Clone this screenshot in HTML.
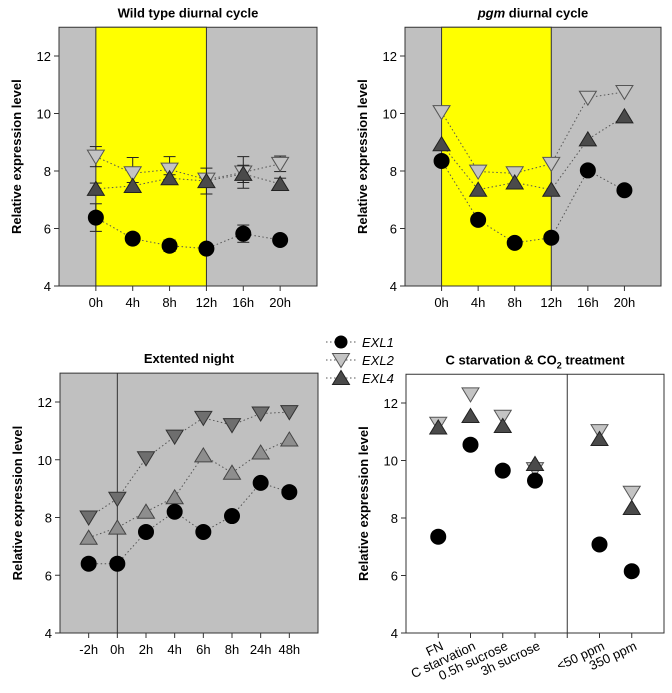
<!DOCTYPE html>
<html><head><meta charset="utf-8"><style>
body{margin:0;background:#fff;}
svg text{font-family:"Liberation Sans",Arial,sans-serif;}
</style></head><body>
<svg id="fig" width="672" height="688" viewBox="0 0 672 688" xmlns="http://www.w3.org/2000/svg"></svg>
<script>
const wtCats=["0h","4h","8h","12h","16h","20h"];
const wtExl1=[6.38,5.65,5.4,5.3,5.82,5.6];
const wtExl1Err=[0.48,0.1,0.2,0.1,0.3,0.17];
const wtExl2=[8.5,7.92,8.05,7.7,7.95,8.25];
const wtExl2Err=[0.35,0.55,0.45,0.1,0.55,0.27];
const wtExl4=[7.38,7.48,7.75,7.65,7.9,7.55];
const wtExl4Err=[0.2,0.12,0.12,0.45,0.3,0.2];
const pgmCats=["0h","4h","8h","12h","16h","20h"];
const pgmExl1=[8.35,6.3,5.5,5.68,8.02,7.33];
const pgmExl2=[10.05,7.98,7.92,8.25,10.55,10.75];
const pgmExl4=[8.93,7.35,7.6,7.35,9.1,9.9];
const enCats=["-2h","0h","2h","4h","6h","8h","24h","48h"];
const enExl1=[6.4,6.4,7.5,8.2,7.5,8.05,9.2,8.88];
const enExl2=[8.0,8.65,10.05,10.8,11.45,11.2,11.6,11.65];
const enExl4=[7.3,7.65,8.2,8.7,10.15,9.55,10.25,10.7];
const csCats=["FN","C starvation","0.5h sucrose","3h sucrose",null,"<50 ppm","350 ppm"];
const csExl1=[7.35,10.55,9.65,9.3,null,7.08,6.15];
const csExl2=[11.28,12.3,11.52,9.7,null,11.02,8.88];
const csExl4=[11.15,11.55,11.2,9.88,null,10.75,8.35];
const yTicks=[4,6,8,10,12];

const NS="http://www.w3.org/2000/svg";
const svg=document.getElementById('fig');
function mk(tag,attrs,parent,txt){const e=document.createElementNS(NS,tag);for(const k in attrs)e.setAttribute(k,attrs[k]);if(txt!==undefined)e.textContent=txt;(parent||svg).appendChild(e);return e;}

function marker(g,type,cx,cy,fill,stroke){
  let e;
  if(type==='circle'){e=mk('circle',{cx:cx,cy:cy,r:7.5,fill:fill,stroke:'#000'},g);}
  else if(type==='down'){e=mk('polygon',{points:`${cx-8.5},${cy-6.5} ${cx+8.5},${cy-6.5} ${cx},${cy+7.5}`,fill:fill,stroke:stroke,'stroke-width':1},g);}
  else{e=mk('polygon',{points:`${cx-8.5},${cy+6.5} ${cx+8.5},${cy+6.5} ${cx},${cy-7.5}`,fill:fill,stroke:stroke,'stroke-width':1},g);}
  return e;
}

function panel(o){
  const g=mk('g',{});
  
  
  const x=i=>o.x0+(i+1)*(o.x1-o.x0)/(o.nslots+1);
  const y=v=>o.yb-(v-4)*(o.yb-o.y12)/8;
  const top=y(13);
  const bg=mk('rect',{x:o.x0,y:top,width:o.x1-o.x0,height:o.yb-top,fill:o.bg,stroke:'#333','stroke-width':1},g);
  
  if(o.yellow){const yr=mk('rect',{x:x(o.yellow[0]),y:top,width:x(o.yellow[1])-x(o.yellow[0]),height:o.yb-top,fill:'#ffff00',stroke:'#333','stroke-width':1},g);
    }
  if(o.vline!==undefined){const vl=mk('line',{x1:x(o.vline),x2:x(o.vline),y1:top,y2:o.yb,stroke:'#333'},g);
    }
  yTicks.forEach(t=>{mk('line',{x1:o.x0-5,x2:o.x0,y1:y(t),y2:y(t),stroke:'#333'},g);
    const tl=mk('text',{x:o.x0-8,y:y(t)+5,'text-anchor':'end','font-size':13},g,t);
    });
  const yt=mk('text',{x:0,y:0,transform:`translate(${o.x0-38},${(top+o.yb)/2}) rotate(-90)`,'text-anchor':'middle','font-size':13,'font-weight':'bold'},g,'Relative expression level');
  
  o.cats.forEach((c,i)=>{if(c===null)return;
    mk('line',{x1:x(i),x2:x(i),y1:o.yb,y2:o.yb+5,stroke:'#333'},g);
    let tl;
    if(o.rot){tl=mk('text',{x:0,y:0,transform:`translate(${x(i)+6},${o.yb+16}) rotate(-25)`,'text-anchor':'end','font-size':13},g,c);}
    else tl=mk('text',{x:x(i),y:o.yb+21,'text-anchor':'middle','font-size':13},g,c);
    });
  if(o.vline!==undefined && o.rot) mk('line',{x1:x(o.vline),x2:x(o.vline),y1:o.yb,y2:o.yb+5,stroke:'#333'},g);
  const tt=mk('text',{x:(o.x0+o.x1)/2,y:top-10,'text-anchor':'middle','font-size':13,'font-weight':'bold'},g);
  
  o.title(tt);
  o.series.forEach(s=>{
    const sg=mk('g',{},g);
    
    if(o.lines){let d='';s.vals.forEach((v,i)=>{if(v===null)return;d+=(d?'L':'M')+x(i)+','+y(v);});
      mk('path',{d:d,fill:'none',stroke:'#555','stroke-width':1,'stroke-dasharray':'1.5,2.5'},sg);}
    if(s.err){s.vals.forEach((v,i)=>{const e=s.err[i];
      mk('line',{x1:x(i),x2:x(i),y1:y(v-e),y2:y(v+e),stroke:'#222'},sg);
      mk('line',{x1:x(i)-6,x2:x(i)+6,y1:y(v-e),y2:y(v-e),stroke:'#222'},sg);
      mk('line',{x1:x(i)-6,x2:x(i)+6,y1:y(v+e),y2:y(v+e),stroke:'#222'},sg);});}
    s.vals.forEach((v,i)=>{if(v===null)return;const m=marker(sg,s.type,x(i),y(v),s.fill,s.stroke);
      });
  });
}

panel({name:'wild-type-panel',x0:59,x1:317,yb:286,y12:56,nslots:6,cats:wtCats,bg:'#c0c0c0',yellow:[0,3],lines:true,
  title:t=>{t.textContent='Wild type diurnal cycle';},
  series:[{name:'exl2-series',vals:wtExl2,err:wtExl2Err,type:'down',fill:'#c4c4c4',stroke:'#555'},
          {name:'exl4-series',vals:wtExl4,err:wtExl4Err,type:'up',fill:'#4a4a4a',stroke:'#222'},
          {name:'exl1-series',vals:wtExl1,err:wtExl1Err,type:'circle',fill:'#000'}]});
panel({name:'pgm-panel',x0:405,x1:661,yb:286,y12:56,nslots:6,cats:pgmCats,bg:'#c0c0c0',yellow:[0,3],lines:true,
  title:t=>{const a=document.createElementNS(NS,'tspan');a.setAttribute('font-style','italic');a.textContent='pgm';t.appendChild(a);t.appendChild(document.createTextNode(' diurnal cycle'));},
  series:[{name:'exl2-series',vals:pgmExl2,type:'down',fill:'#c4c4c4',stroke:'#555'},
          {name:'exl4-series',vals:pgmExl4,type:'up',fill:'#4a4a4a',stroke:'#222'},
          {name:'exl1-series',vals:pgmExl1,type:'circle',fill:'#000'}]});
panel({name:'extended-night-panel',x0:60,x1:318,yb:633,y12:402,nslots:8,cats:enCats,bg:'#c0c0c0',vline:1,lines:true,
  title:t=>{t.textContent='Extented night';},
  series:[{name:'exl2-series',vals:enExl2,type:'down',fill:'#6e6e6e',stroke:'#333'},
          {name:'exl4-series',vals:enExl4,type:'up',fill:'#8e8e8e',stroke:'#444'},
          {name:'exl1-series',vals:enExl1,type:'circle',fill:'#000'}]});
panel({name:'c-starvation-panel',x0:406,x1:664,yb:633,y12:403,nslots:7,cats:csCats,bg:'#ffffff',vline:4,lines:false,rot:true,
  title:t=>{t.textContent='C starvation & CO';const s=document.createElementNS(NS,'tspan');s.setAttribute('font-size','9');s.setAttribute('dy','4');s.textContent='2';t.appendChild(s);const r=document.createElementNS(NS,'tspan');r.setAttribute('dy','-4');r.textContent=' treatment';t.appendChild(r);},
  series:[{name:'exl2-series',vals:csExl2,type:'down',fill:'#c4c4c4',stroke:'#555'},
          {name:'exl4-series',vals:csExl4,type:'up',fill:'#4a4a4a',stroke:'#222'},
          {name:'exl1-series',vals:csExl1,type:'circle',fill:'#000'}]});

const lg=mk('g',{});

[['EXL1','circle','#000','#000',342],['EXL2','down','#c4c4c4','#555',360],['EXL4','up','#4a4a4a','#222',378]].forEach(r=>{
  const eg=mk('g',{},lg);
  
  mk('line',{x1:326,x2:358,y1:r[4],y2:r[4],stroke:'#555','stroke-dasharray':'1.5,2.5'},eg);
  const m=marker(eg,r[1],341,r[4],r[2],r[3]); if(r[1]==='circle')m.setAttribute('r',6);
  mk('text',{x:362,y:r[4]+5,'font-size':13,'font-style':'italic'},eg,r[0]);
});
</script>
</body></html>
